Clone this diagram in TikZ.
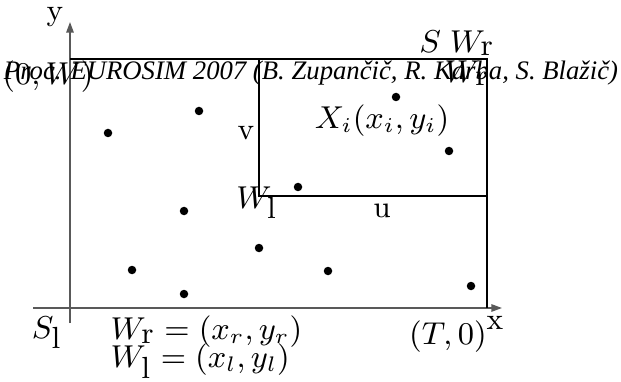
\documentclass[tikz,border=0pt]{standalone}
\usepackage{fontspec}
\newfontfamily\procfont{Liberation Serif}
\usetikzlibrary{arrows.meta,positioning}

\begin{document}
\begin{tikzpicture}[
  font=\fontsize{8.7}{10}\selectfont,
  inner sep=0pt,
  axis/.style={draw=black!65, line width=0.4pt, -{Triangle[length=3pt,width=2.1pt]}},
  frame/.style={draw=black, line width=0.4pt},
  sample/.style={circle, fill=black, inner sep=0pt, minimum size=0.85mm},
  procline/.style={font=\procfont\itshape\fontsize{7.6}{9}\selectfont, anchor=base}
]
\useasboundingbox (0,0) rectangle (6.21,3.81);

% axes and window corners
\coordinate (orig) at (0.70,0.73);
\coordinate (ybot) at (0.70,0.58);
\coordinate (ytop) at (0.70,3.59);
\coordinate (xleft) at (0.33,0.73);
\coordinate (xright) at (5.02,0.73);
\coordinate (topright) at (4.87,3.22);
\coordinate (wlow) at (2.59,1.85);

\draw[axis] (ybot) -- (ytop);
\draw[axis] (xleft) -- (xright);
\draw[frame] (orig |- topright) -- (topright) -- (topright |- orig);
\draw[frame] (wlow) rectangle (topright);

% samples
\foreach \px/\py [count=\i] in {1.08/2.48, 1.99/2.70, 3.96/2.84, 4.49/2.30, 2.98/1.94,
    1.84/1.70, 2.59/1.33, 1.32/1.11, 3.28/1.10, 1.84/0.87, 4.71/0.95}
  \node[sample] (s\i) at (\px,\py) {};

% labels
\node (ylab) at (0.55,3.64) {y};
\node (xlab) at (4.95,0.58) {x};
\node (tzero) at (4.48,0.44) {$(T,0)$};
\node (slow) at (0.47,0.48) {$S_{\textstyle\mathrm{l}}$};
\node[anchor=west] (wrdef) at (1.10,0.49) {$W_{\textstyle\mathrm{r}}=(x_r,y_r)$};
\node[anchor=west] (wldef) at (1.10,0.20) {$W_{\textstyle\mathrm{l}}=(x_l,y_l)$};
\node (wlab) at (2.57,1.78) {$W_{\textstyle\mathrm{l}}$};
\node (ulab) at (3.82,1.70) {u};
\node (vlab) at (2.46,2.48) {v};
\node (xilab) at (3.82,2.60) {$X_i(x_i,y_i)$};
\node (wrlab) at (4.67,3.08) {$W_{\textstyle\mathrm{r}}$};
\node (swr) at (4.57,3.38) {$S\;W_{\textstyle\mathrm{r}}$};
\node (owlab) at (0.48,3.04) {$(0,W)$};
\node[procline] (proc) at (3.11,3.01) {Proc. EUROSIM 2007 (B. Zupančič, R. Karba, S. Blažič)};
\end{tikzpicture}
\end{document}
